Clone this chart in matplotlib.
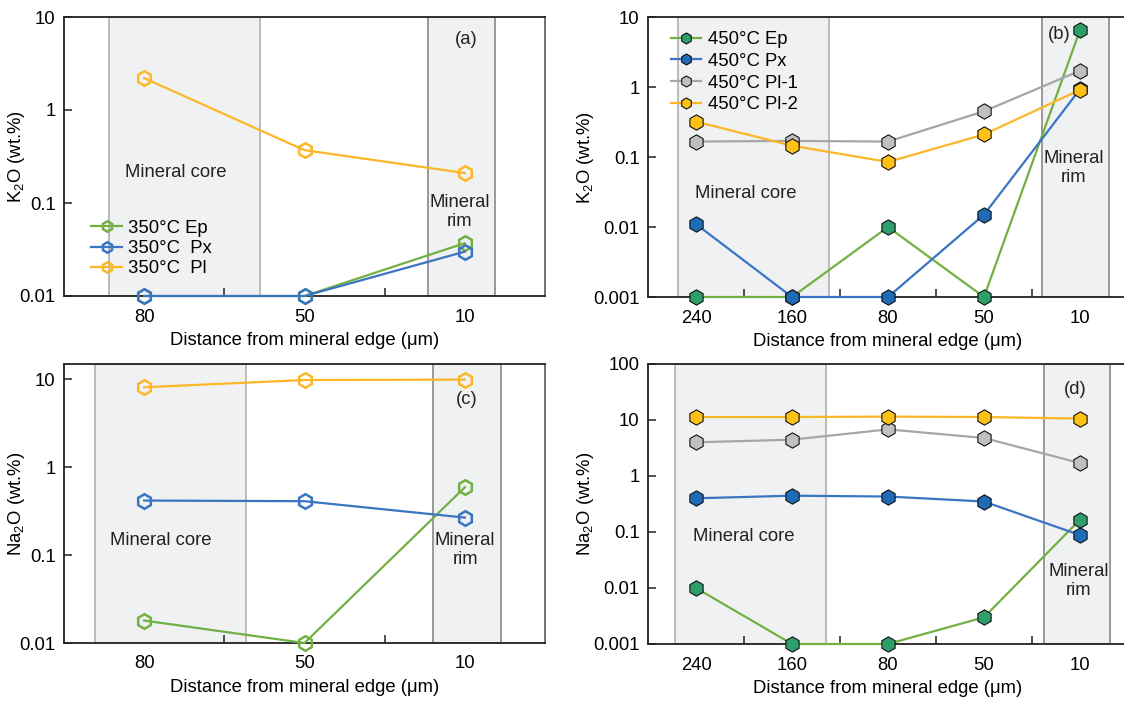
import matplotlib
matplotlib.use("Agg")
import matplotlib.pyplot as plt

plt.rcParams["font.family"] = ["Liberation Sans", "DejaVu Sans"]
plt.rcParams["mathtext.fontset"] = "custom"
plt.rcParams["mathtext.rm"] = "Liberation Sans"
plt.rcParams["mathtext.it"] = "Liberation Sans:italic"

# ---- data -------------------------------------------------------------
dist_350 = ["80", "50", "10"]
dist_450 = ["240", "160", "80", "50", "10"]

k2o_350_ep = [0.01, 0.01, 0.037]
k2o_350_px = [0.01, 0.01, 0.030]
k2o_350_pl = [2.2, 0.37, 0.21]

k2o_450_ep = [0.001, 0.001, 0.01, 0.001, 6.5]
k2o_450_px = [0.011, 0.001, 0.001, 0.015, 0.93]
k2o_450_pl1 = [0.166, 0.17, 0.166, 0.45, 1.71]
k2o_450_pl2 = [0.32, 0.145, 0.085, 0.21, 0.91]

na2o_350_ep = [0.018, 0.01, 0.59]
na2o_350_px = [0.417, 0.41, 0.267]
na2o_350_pl = [8.1, 9.8, 9.9]

na2o_450_ep = [0.01, 0.001, 0.001, 0.003, 0.166]
na2o_450_px = [0.40, 0.445, 0.43, 0.35, 0.088]
na2o_450_pl1 = [4.0, 4.45, 6.8, 4.77, 1.7]
na2o_450_pl2 = [11.3, 11.3, 11.5, 11.3, 10.6]

# ---- styling ----------------------------------------------------------
GREEN = "#72b043"
BLUE = "#3a75c2"
GRAY = "#a6a6a6"
ORANGE = "#fbb728"
EP_FILL = "#2e9e6a"
PX_FILL = "#1f6cb6"
PL1_FILL = "#c0c0c0"
PL2_FILL = "#ffc114"
BAND = "#f0f1f3"
FS = 13.3

W, H = 1124, 702
fig = plt.figure(figsize=(W / 100, H / 100), dpi=100)


def add_axes(left, top, right, bottom):
    return fig.add_axes([left / W, 1 - bottom / H, (right - left) / W, (bottom - top) / H])


def style_axes(ax, labels, ylim, ylabel, core, rim, ylabel_x, show_right=True):
    n = len(labels)
    ax.set_yscale("log")
    ax.set_ylim(*ylim)
    ax.set_xlim(-0.5, n - 0.5)
    ax.set_xticks(range(n))
    ax.set_xticklabels(labels)
    ax.set_xticks([i + 0.5 for i in range(n - 1)], minor=True)
    ax.tick_params(axis="x", which="major", length=0, pad=9, labelsize=FS)
    ax.tick_params(axis="x", which="minor", direction="in", length=6, width=1.1, color="#222")
    ax.tick_params(axis="y", which="major", direction="in", length=6, width=1.1,
                   labelsize=FS, pad=6, color="#222")
    ax.tick_params(axis="y", which="minor", length=0)
    ax.yaxis.set_major_formatter(matplotlib.ticker.FuncFormatter(lambda v, p: f"{v:g}"))
    for s in ("left", "top", "bottom"):
        ax.spines[s].set_color("#222")
        ax.spines[s].set_linewidth(1.3)
    ax.spines["right"].set_color("#666")
    ax.spines["right"].set_linewidth(1.3)
    ax.spines["right"].set_visible(show_right)
    ax.set_xlabel("Distance from mineral edge (\u03bcm)", fontsize=FS, labelpad=5)
    ax.set_ylabel(ylabel, fontsize=FS)
    ax.yaxis.set_label_coords(ylabel_x, 0.5)
    ax.axvspan(core[0], core[1], facecolor=BAND, edgecolor="#b0b0b0", lw=1.2, zorder=0)
    ax.axvspan(rim[0], rim[1], facecolor=BAND, edgecolor="#999999", lw=1.4, zorder=0)


def open_line(ax, x, y, color, label=None):
    ax.plot(x, y, color=color, lw=1.6, marker="h", ms=10.5, mfc="none", mec=color,
            mew=1.8, label=label, clip_on=False, zorder=3)


def filled_line(ax, x, y, color, fill, label=None):
    ax.plot(x, y, color=color, lw=1.6, marker="h", ms=11, mfc=fill, mec="#111",
            mew=0.8, label=label, clip_on=False, zorder=3)


def annotate(ax, core_xy, rim_xy, tag, tag_xy):
    ax.text(*core_xy, "Mineral core", transform=ax.transAxes, fontsize=FS,
            ha="center", va="center", color="#222")
    ax.text(*rim_xy, "Mineral\nrim", transform=ax.transAxes, fontsize=FS,
            ha="center", va="center", color="#222", linespacing=1.15)
    ax.text(*tag_xy, tag, transform=ax.transAxes, fontsize=FS, ha="center",
            va="center", color="#222")


legend_kw = dict(frameon=False, fontsize=FS, handlelength=1.65, handletextpad=0.35,
                 borderpad=0.2, markerscale=0.72)

# (a) K2O at 350 °C
ax_a = add_axes(64, 17, 545, 296)
style_axes(ax_a, dist_350, (0.01, 10), "K$_2$O (wt.%)", (-0.22, 0.725), (1.77, 2.19),
           ylabel_x=-0.077)
xa = range(len(dist_350))
open_line(ax_a, xa, k2o_350_ep, GREEN, "350\u00b0C Ep")
open_line(ax_a, xa, k2o_350_px, BLUE, "350\u00b0C  Px")
open_line(ax_a, xa, k2o_350_pl, ORANGE, "350\u00b0C  Pl")
ax_a.legend(loc="upper left", bbox_to_anchor=(0.03, 0.32), labelspacing=0.18, **legend_kw)
annotate(ax_a, (0.233, 0.442), (0.823, 0.3), "(a)", (0.836, 0.918))

# (b) K2O at 450 °C
ax_b = add_axes(648, 17, 1128, 297)
style_axes(ax_b, dist_450, (0.001, 10), "K$_2$O (wt.%)", (-0.19, 1.385), (3.6, 4.3),
           ylabel_x=-0.108, show_right=False)
xb = range(len(dist_450))
filled_line(ax_b, xb, k2o_450_ep, GREEN, EP_FILL, "450\u00b0C Ep")
filled_line(ax_b, xb, k2o_450_px, BLUE, PX_FILL, "450\u00b0C Px")
filled_line(ax_b, xb, k2o_450_pl1, GRAY, PL1_FILL, "450\u00b0C Pl-1")
filled_line(ax_b, xb, k2o_450_pl2, ORANGE, PL2_FILL, "450\u00b0C Pl-2")
ax_b.legend(loc="upper left", bbox_to_anchor=(0.021, 0.995), labelspacing=0.25, **legend_kw)
annotate(ax_b, (0.204, 0.368), (0.8875, 0.461), "(b)", (0.856, 0.936))

# (c) Na2O at 350 °C
ax_c = add_axes(64, 364, 545, 643)
style_axes(ax_c, dist_350, (0.01, 14.9), "Na$_2$O (wt.%)", (-0.306, 0.636), (1.80, 2.225),
           ylabel_x=-0.077)
open_line(ax_c, xa, na2o_350_ep, GREEN)
open_line(ax_c, xa, na2o_350_px, BLUE)
open_line(ax_c, xa, na2o_350_pl, ORANGE)
annotate(ax_c, (0.202, 0.369), (0.834, 0.333), "(c)", (0.838, 0.871))

# (d) Na2O at 450 °C
ax_d = add_axes(648, 364, 1128, 644)
style_axes(ax_d, dist_450, (0.001, 100), "Na$_2$O (wt.%)", (-0.22, 1.35), (3.62, 4.31),
           ylabel_x=-0.108, show_right=False)
filled_line(ax_d, xb, na2o_450_ep, GREEN, EP_FILL)
filled_line(ax_d, xb, na2o_450_px, BLUE, PX_FILL)
filled_line(ax_d, xb, na2o_450_pl1, GRAY, PL1_FILL)
filled_line(ax_d, xb, na2o_450_pl2, ORANGE, PL2_FILL)
annotate(ax_d, (0.199, 0.383), (0.897, 0.224), "(d)", (0.89, 0.91))

fig.savefig("out.png", dpi=100)
